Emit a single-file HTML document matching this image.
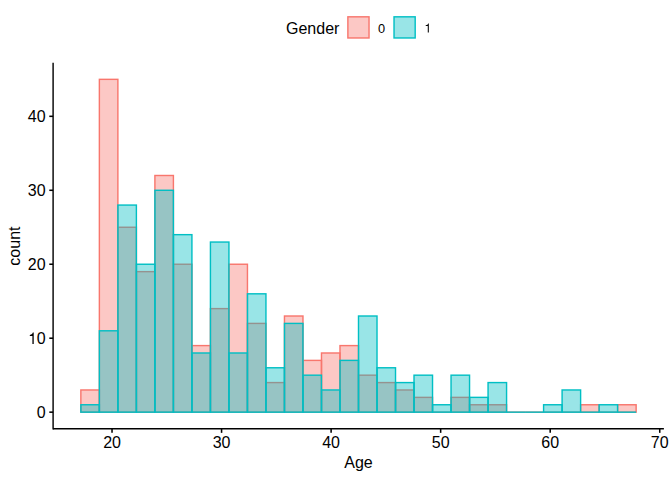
<!DOCTYPE html>
<html><head><meta charset="utf-8"><title>Histogram</title>
<style>html,body{margin:0;padding:0;background:#fff;}body{width:672px;height:480px;overflow:hidden;font-family:"Liberation Sans",sans-serif;}</style>
</head><body>
<svg width="672" height="480" viewBox="0 0 672 480" style="display:block">
<rect width="672" height="480" fill="#fff"/>
<g fill="#F8766D" fill-opacity="0.4" stroke="#F8766D" stroke-width="1.42" stroke-linejoin="miter"><rect x="80.86" y="389.97" width="18.51" height="22.19"/><rect x="99.37" y="79.34" width="18.51" height="332.82"/><rect x="117.88" y="227.26" width="18.51" height="184.90"/><rect x="136.39" y="271.64" width="18.51" height="140.52"/><rect x="154.90" y="175.49" width="18.51" height="236.67"/><rect x="173.41" y="264.24" width="18.51" height="147.92"/><rect x="191.92" y="345.60" width="18.51" height="66.56"/><rect x="210.43" y="308.62" width="18.51" height="103.54"/><rect x="228.94" y="264.24" width="18.51" height="147.92"/><rect x="247.44" y="323.41" width="18.51" height="88.75"/><rect x="265.95" y="382.58" width="18.51" height="29.58"/><rect x="284.46" y="316.01" width="18.51" height="96.15"/><rect x="302.97" y="360.39" width="18.51" height="51.77"/><rect x="321.48" y="352.99" width="18.51" height="59.17"/><rect x="339.99" y="345.60" width="18.51" height="66.56"/><rect x="358.50" y="375.18" width="18.51" height="36.98"/><rect x="377.01" y="382.58" width="18.51" height="29.58"/><rect x="395.52" y="389.97" width="18.51" height="22.19"/><rect x="414.02" y="397.37" width="18.51" height="14.79"/><line x1="432.53" y1="412.16" x2="451.04" y2="412.16"/><rect x="451.04" y="397.37" width="18.51" height="14.79"/><rect x="469.55" y="404.76" width="18.51" height="7.40"/><rect x="488.06" y="404.76" width="18.51" height="7.40"/><line x1="506.57" y1="412.16" x2="525.08" y2="412.16"/><line x1="525.08" y1="412.16" x2="543.59" y2="412.16"/><line x1="543.59" y1="412.16" x2="562.10" y2="412.16"/><line x1="562.10" y1="412.16" x2="580.61" y2="412.16"/><rect x="580.61" y="404.76" width="18.51" height="7.40"/><line x1="599.11" y1="412.16" x2="617.62" y2="412.16"/><rect x="617.62" y="404.76" width="18.51" height="7.40"/></g>
<g fill="#00BFC4" fill-opacity="0.4" stroke="#00BFC4" stroke-width="1.42" stroke-linejoin="miter"><rect x="80.86" y="404.76" width="18.51" height="7.40"/><rect x="99.37" y="330.80" width="18.51" height="81.36"/><rect x="117.88" y="205.07" width="18.51" height="207.09"/><rect x="136.39" y="264.24" width="18.51" height="147.92"/><rect x="154.90" y="190.28" width="18.51" height="221.88"/><rect x="173.41" y="234.66" width="18.51" height="177.50"/><rect x="191.92" y="352.99" width="18.51" height="59.17"/><rect x="210.43" y="242.05" width="18.51" height="170.11"/><rect x="228.94" y="352.99" width="18.51" height="59.17"/><rect x="247.44" y="293.82" width="18.51" height="118.34"/><rect x="265.95" y="367.78" width="18.51" height="44.38"/><rect x="284.46" y="323.41" width="18.51" height="88.75"/><rect x="302.97" y="375.18" width="18.51" height="36.98"/><rect x="321.48" y="389.97" width="18.51" height="22.19"/><rect x="339.99" y="360.39" width="18.51" height="51.77"/><rect x="358.50" y="316.01" width="18.51" height="96.15"/><rect x="377.01" y="367.78" width="18.51" height="44.38"/><rect x="395.52" y="382.58" width="18.51" height="29.58"/><rect x="414.02" y="375.18" width="18.51" height="36.98"/><rect x="432.53" y="404.76" width="18.51" height="7.40"/><rect x="451.04" y="375.18" width="18.51" height="36.98"/><rect x="469.55" y="397.37" width="18.51" height="14.79"/><rect x="488.06" y="382.58" width="18.51" height="29.58"/><line x1="506.57" y1="412.16" x2="525.08" y2="412.16"/><line x1="525.08" y1="412.16" x2="543.59" y2="412.16"/><rect x="543.59" y="404.76" width="18.51" height="7.40"/><rect x="562.10" y="389.97" width="18.51" height="22.19"/><line x1="580.61" y1="412.16" x2="599.11" y2="412.16"/><rect x="599.11" y="404.76" width="18.51" height="7.40"/><line x1="617.62" y1="412.16" x2="636.13" y2="412.16"/></g>
<g stroke="#000" stroke-width="1.42" fill="none"><line x1="53.1" y1="62.7" x2="53.1" y2="429.51"/><line x1="53.1" y1="428.8" x2="663.9" y2="428.8"/><line x1="112.03" y1="428.8" x2="112.03" y2="432.85" stroke-width="1.55"/><line x1="221.57" y1="428.8" x2="221.57" y2="432.85" stroke-width="1.55"/><line x1="331.11" y1="428.8" x2="331.11" y2="432.85" stroke-width="1.55"/><line x1="440.65" y1="428.8" x2="440.65" y2="432.85" stroke-width="1.55"/><line x1="550.20" y1="428.8" x2="550.20" y2="432.85" stroke-width="1.55"/><line x1="659.74" y1="428.8" x2="659.74" y2="432.85" stroke-width="1.55"/><line x1="49.300000000000004" y1="412.16" x2="53.1" y2="412.16" stroke-width="1.55"/><line x1="49.300000000000004" y1="338.20" x2="53.1" y2="338.20" stroke-width="1.55"/><line x1="49.300000000000004" y1="264.24" x2="53.1" y2="264.24" stroke-width="1.55"/><line x1="49.300000000000004" y1="190.28" x2="53.1" y2="190.28" stroke-width="1.55"/><line x1="49.300000000000004" y1="116.32" x2="53.1" y2="116.32" stroke-width="1.55"/></g>
<g font-family="Liberation Sans, sans-serif" font-size="16px" fill="#000"><text x="112.03" y="447.7" text-anchor="middle">20</text><text x="221.57" y="447.7" text-anchor="middle">30</text><text x="331.11" y="447.7" text-anchor="middle">40</text><text x="440.65" y="447.7" text-anchor="middle">50</text><text x="550.20" y="447.7" text-anchor="middle">60</text><text x="659.74" y="447.7" text-anchor="middle">70</text><text x="45.6" y="417.91" text-anchor="end">0</text><text x="45.6" y="343.95" text-anchor="end">0</text><path transform="translate(28.20,343.95) scale(0.01600,-0.01600)" d="M345 0L345 709L290 709C272 640 228 580 101 563L101 502L263 502L263 0Z"/><text x="45.6" y="269.99" text-anchor="end">20</text><text x="45.6" y="196.03" text-anchor="end">30</text><text x="45.6" y="122.07" text-anchor="end">40</text><text x="358.45" y="467.5" text-anchor="middle">Age</text><text transform="translate(20,246.1) rotate(-90)" text-anchor="middle">count</text><text x="286" y="33.5">Gender</text><text x="377.9" y="32.6" font-size="12.8px">0</text><path transform="translate(424.40,32.50) scale(0.01280,-0.01280)" d="M345 0L345 709L290 709C272 640 228 580 101 563L101 502L263 502L263 0Z"/></g>
<rect x="347.88" y="16.82" width="21.15" height="21.15" fill="#F8766D" fill-opacity="0.4" stroke="#F8766D" stroke-width="1.42"/><rect x="394.03" y="16.82" width="21.15" height="21.15" fill="#00BFC4" fill-opacity="0.4" stroke="#00BFC4" stroke-width="1.42"/>
</svg>
</body></html>
